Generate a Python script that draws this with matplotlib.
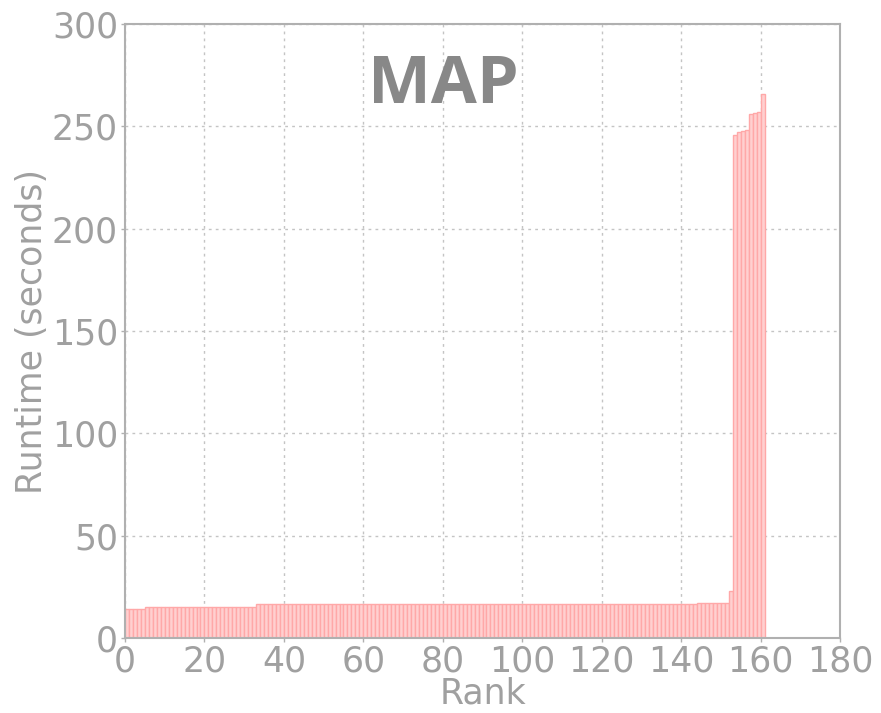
import numpy as np
import matplotlib
matplotlib.use("Agg")
import matplotlib.pyplot as plt

# runtimes per rank (runs of equal values)
runs = [(14.0, 5), (15.2, 28), (16.5, 111), (17.3, 8), (23.0, 1)]
tail = [246, 247, 247.5, 248, 256, 256.5, 257, 266]

runtime = []
for v, n in runs:
    runtime += [v] * n
runtime += tail
rank = np.arange(len(runtime))

grey = "#a0a0a0"
plt.rcParams['font.family'] = ['DejaVu Sans']

fig = plt.figure(figsize=(8.81, 7.13), dpi=100)
ax = fig.add_axes([0.1419, 0.1052, 0.8116, 0.8611])

ax.bar(rank, runtime, width=1.0, align='edge', facecolor='#ffd0d0',
       edgecolor='#ffa8a8', linewidth=1.0, zorder=2)

ax.set_xlim(0, 180)
ax.set_ylim(0, 300)
ax.set_xticks(range(0, 181, 20))
ax.set_yticks(range(0, 301, 50))
ax.grid(True, linestyle=(0, (2, 3)), color='#c4c4c4', linewidth=1.0, zorder=0)
ax.set_axisbelow(True)

for s in ax.spines.values():
    s.set_color('#b0b0b0')
    s.set_linewidth(1.5)
ax.tick_params(colors='#b0b0b0', labelcolor=grey, labelsize=25, length=3, width=1, pad=2)
ax.set_xlabel("Rank", fontsize=25, color=grey, labelpad=-2)
ax.set_ylabel("Runtime (seconds)", fontsize=25, color=grey, labelpad=2)

ax.text(0.445, 0.9, "MAP", transform=ax.transAxes, ha='center', va='center',
        fontsize=48, fontweight='bold', color='#888888', family=['Open Sans', 'DejaVu Sans'])

fig.savefig("out.png", dpi=100)
